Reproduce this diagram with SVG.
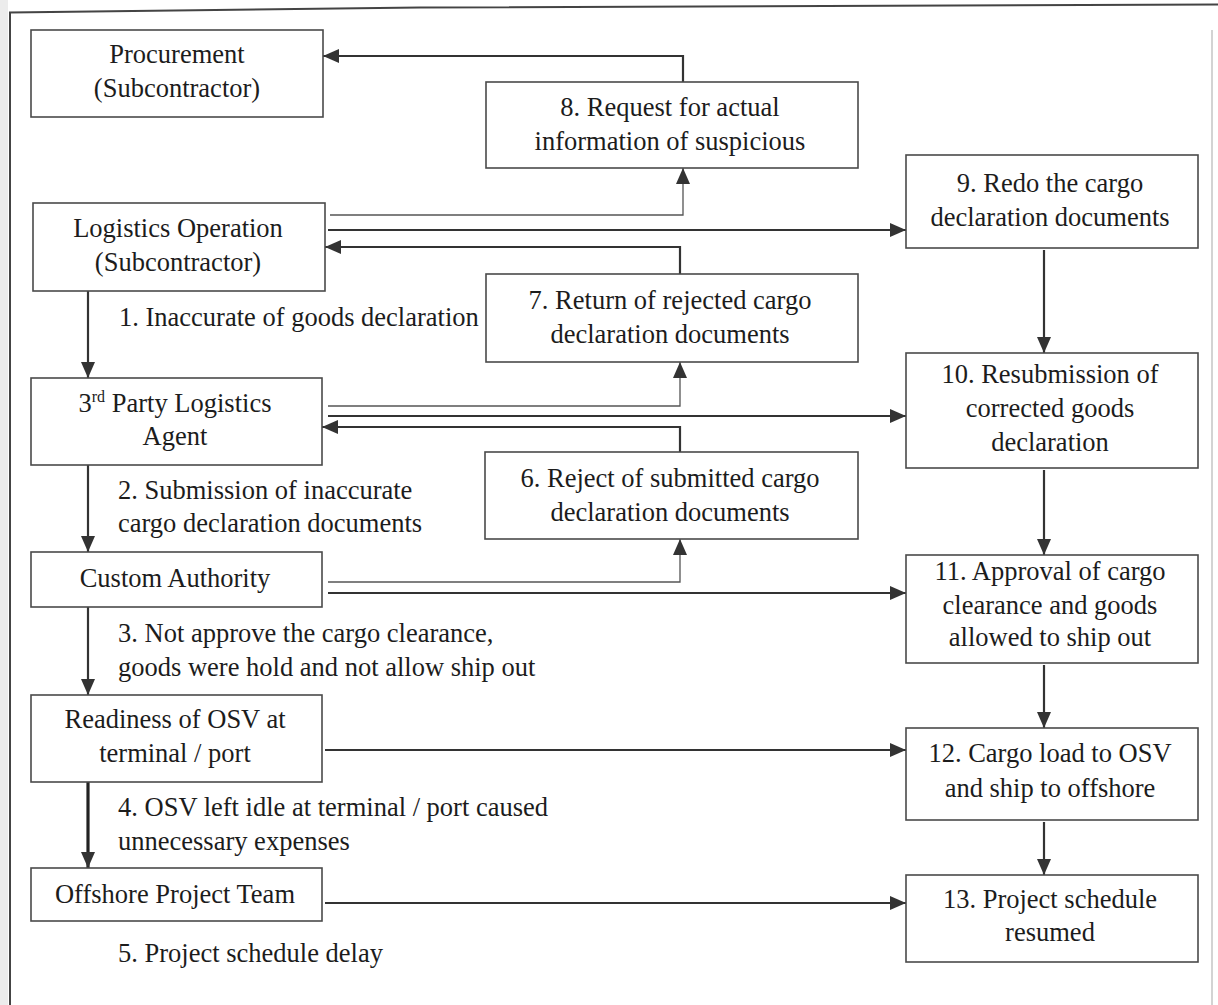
<svg xmlns="http://www.w3.org/2000/svg" width="1218" height="1005" viewBox="0 0 1218 1005">
  <style>
    .box { fill: #ffffff; stroke: #4a4a4a; stroke-width: 1.6; }
    .lbl { font-family: "Liberation Serif", "Times New Roman", serif; font-size: 26.5px; fill: #1c1c1c; }
    .mid { text-anchor: middle; }
    .link { fill: none; stroke: #333333; stroke-width: 2.2; }
    .thin { fill: none; stroke: #555555; stroke-width: 1.3; }
    .heavy { fill: none; stroke: #222222; stroke-width: 3.2; }
    .frame { fill: none; stroke: #444444; stroke-width: 2; }
  </style>
  <defs>
    <marker id="arrow" viewBox="0 0 16 14" refX="16" refY="7" markerWidth="16" markerHeight="14" markerUnits="userSpaceOnUse" orient="auto">
      <path d="M0,0 L16,7 L0,14 z" fill="#333333"/>
    </marker>
  </defs>

  <rect x="0" y="0" width="1218" height="1005" fill="#ffffff"/>

  <!-- page frame -->
  <g id="frame">
    <rect x="0" y="0" width="8" height="1005" fill="#ececec"/>
    <path class="frame" d="M10,1005 V12.5 L420,7.5 L1218,4.5"/>
    <path d="M1212,30 V1005" fill="none" stroke="#c4c4c4" stroke-width="1.5"/>
  </g>

  <!-- connectors -->
  <g id="connectors">
    <!-- left column flow -->
    <path class="link" d="M88,291 V378" marker-end="url(#arrow)"/>
    <path class="link" d="M88,465 V552" marker-end="url(#arrow)"/>
    <path class="link" d="M88,607 V695" marker-end="url(#arrow)"/>
    <path class="heavy" d="M88,782 V868" marker-end="url(#arrow)"/>

    <!-- right column flow -->
    <path class="link" d="M1044,250 V353" marker-end="url(#arrow)"/>
    <path class="link" d="M1044,470 V555" marker-end="url(#arrow)"/>
    <path class="link" d="M1044,665 V728" marker-end="url(#arrow)"/>
    <path class="link" d="M1044,822 V875" marker-end="url(#arrow)"/>

    <!-- request for information back to procurement -->
    <path class="link" d="M683,82 V56 H323" marker-end="url(#arrow)"/>
    <!-- logistics operation links -->
    <path class="thin" d="M330,215 H683 V168" marker-end="url(#arrow)"/>
    <path class="link" d="M328,230 H906" marker-end="url(#arrow)"/>
    <path class="link" d="M680,274 V247 H325" marker-end="url(#arrow)"/>
    <!-- 3rd party agent links -->
    <path class="thin" d="M328,406 H680 V362" marker-end="url(#arrow)"/>
    <path class="link" d="M328,416 H906" marker-end="url(#arrow)"/>
    <path class="link" d="M680,452 V427 H322" marker-end="url(#arrow)"/>
    <!-- custom authority links -->
    <path class="thin" d="M328,582 H680 V539" marker-end="url(#arrow)"/>
    <path class="link" d="M328,593 H906" marker-end="url(#arrow)"/>
    <!-- vessel and project team links -->
    <path class="link" d="M325,750 H906" marker-end="url(#arrow)"/>
    <path class="link" d="M325,903 H906" marker-end="url(#arrow)"/>
  </g>

  <!-- edge labels -->
  <g id="labels">
    <text class="lbl" x="119" y="326">1. Inaccurate of goods declaration</text>
    <text class="lbl" x="118" y="499">2. Submission of inaccurate</text>
    <text class="lbl" x="118" y="532">cargo declaration documents</text>
    <text class="lbl" x="118" y="642">3. Not approve the cargo clearance,</text>
    <text class="lbl" x="118" y="676">goods were hold and not allow ship out</text>
    <text class="lbl" x="118" y="816">4. OSV left idle at terminal / port caused</text>
    <text class="lbl" x="118" y="850">unnecessary expenses</text>
    <text class="lbl" x="118" y="962">5. Project schedule delay</text>
  </g>

  <!-- left column nodes -->
  <g id="procurement">
    <rect class="box" x="31" y="30" width="292" height="87"/>
    <text class="lbl mid" x="177" y="63">Procurement</text>
    <text class="lbl mid" x="177" y="97">(Subcontractor)</text>
  </g>
  <g id="logistics-operation">
    <rect class="box" x="33" y="203" width="292" height="88"/>
    <text class="lbl mid" x="178" y="237">Logistics Operation</text>
    <text class="lbl mid" x="178" y="271">(Subcontractor)</text>
  </g>
  <g id="third-party-agent">
    <rect class="box" x="31" y="378" width="291" height="87"/>
    <text class="lbl mid" x="175" y="412">3<tspan font-size="16" dy="-10">rd</tspan><tspan dy="10"> Party Logistics</tspan></text>
    <text class="lbl mid" x="175" y="445">Agent</text>
  </g>
  <g id="custom-authority">
    <rect class="box" x="31" y="552" width="291" height="55"/>
    <text class="lbl mid" x="175" y="587">Custom Authority</text>
  </g>
  <g id="osv-readiness">
    <rect class="box" x="31" y="695" width="291" height="87"/>
    <text class="lbl mid" x="175" y="728">Readiness of OSV at</text>
    <text class="lbl mid" x="175" y="762">terminal / port</text>
  </g>
  <g id="offshore-team">
    <rect class="box" x="31" y="868" width="291" height="53"/>
    <text class="lbl mid" x="175" y="903">Offshore Project Team</text>
  </g>

  <!-- middle column nodes -->
  <g id="step-8">
    <rect class="box" x="486" y="82" width="372" height="86"/>
    <text class="lbl mid" x="670" y="116">8. Request for actual</text>
    <text class="lbl mid" x="670" y="150">information of suspicious</text>
  </g>
  <g id="step-7">
    <rect class="box" x="486" y="274" width="372" height="88"/>
    <text class="lbl mid" x="670" y="309">7. Return of rejected cargo</text>
    <text class="lbl mid" x="670" y="343">declaration documents</text>
  </g>
  <g id="step-6">
    <rect class="box" x="485" y="452" width="373" height="87"/>
    <text class="lbl mid" x="670" y="487">6. Reject of submitted cargo</text>
    <text class="lbl mid" x="670" y="521">declaration documents</text>
  </g>

  <!-- right column nodes -->
  <g id="step-9">
    <rect class="box" x="906" y="155" width="292" height="93"/>
    <text class="lbl mid" x="1050" y="192">9. Redo the cargo</text>
    <text class="lbl mid" x="1050" y="226">declaration documents</text>
  </g>
  <g id="step-10">
    <rect class="box" x="906" y="353" width="292" height="115"/>
    <text class="lbl mid" x="1050" y="383">10. Resubmission of</text>
    <text class="lbl mid" x="1050" y="417">corrected goods</text>
    <text class="lbl mid" x="1050" y="451">declaration</text>
  </g>
  <g id="step-11">
    <rect class="box" x="906" y="555" width="292" height="108"/>
    <text class="lbl mid" x="1050" y="580">11. Approval of cargo</text>
    <text class="lbl mid" x="1050" y="614">clearance and goods</text>
    <text class="lbl mid" x="1050" y="646">allowed to ship out</text>
  </g>
  <g id="step-12">
    <rect class="box" x="906" y="728" width="292" height="92"/>
    <text class="lbl mid" x="1050" y="762">12. Cargo load to OSV</text>
    <text class="lbl mid" x="1050" y="797">and ship to offshore</text>
  </g>
  <g id="step-13">
    <rect class="box" x="906" y="875" width="292" height="87"/>
    <text class="lbl mid" x="1050" y="908">13. Project schedule</text>
    <text class="lbl mid" x="1050" y="941">resumed</text>
  </g>
</svg>
